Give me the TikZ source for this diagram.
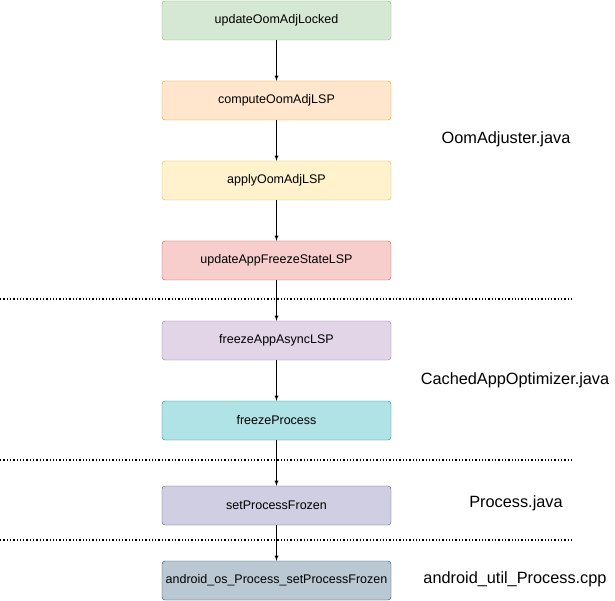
\documentclass[tikz,border=0pt]{standalone}
\usepackage{fontspec}
\setmainfont{Liberation Sans}
\begin{document}
\begin{tikzpicture}[x=1pt,y=-1pt,
  box/.style={draw, rounded corners=3pt, minimum width=229pt, minimum height=39pt, font=\fontsize{12.5}{14}\selectfont, inner sep=0pt},
  arr/.style={-latex, thick},
  sep/.style={dotted, line width=1.3pt},
  lbl/.style={font=\fontsize{16.3}{19}\selectfont}]
\useasboundingbox (0,0) rectangle (615,601);
\definecolor{g1}{HTML}{D5E8D4}\definecolor{g2}{HTML}{82B366}
\definecolor{o1}{HTML}{FFE6CC}\definecolor{o2}{HTML}{D79B00}
\definecolor{y1}{HTML}{FFF2CC}\definecolor{y2}{HTML}{D6B656}
\definecolor{r1}{HTML}{F8CECC}\definecolor{r2}{HTML}{B85450}
\definecolor{p1}{HTML}{E1D5E7}\definecolor{p2}{HTML}{9673A6}
\definecolor{t1}{HTML}{B0E3E6}\definecolor{t2}{HTML}{0E8088}
\definecolor{v1}{HTML}{D0CEE2}\definecolor{v2}{HTML}{56517E}
\definecolor{b1}{HTML}{BAC8D3}\definecolor{b2}{HTML}{23445D}
\node[box, fill=g1, draw=g2] (a) at (276.5,20.5) {updateOomAdjLocked};
\node[box, fill=o1, draw=o2] (b) at (276.5,100.5) {computeOomAdjLSP};
\node[box, fill=y1, draw=y2] (c) at (276.5,180.5) {applyOomAdjLSP};
\node[box, fill=r1, draw=r2] (d) at (276.5,260.5) {updateAppFreezeStateLSP};
\node[box, fill=p1, draw=p2] (e) at (276.5,340.5) {freezeAppAsyncLSP};
\node[box, fill=t1, draw=t2] (f) at (276.5,420.5) {freezeProcess};
\node[box, fill=v1, draw=v2] (g) at (276.5,505.5) {setProcessFrozen};
\node[box, fill=b1, draw=b2] (h) at (276.5,580.5) {android\_os\_Process\_setProcessFrozen};
\foreach \u/\v in {a/b,b/c,c/d,d/e,e/f,f/g,g/h} \draw[arr] (\u) -- (\v);
\draw[sep] (0,299) -- (572,299);
\draw[sep] (0,460) -- (572,460);
\draw[sep] (0,540) -- (572,540);
\node[lbl] (l1) at (506,139) {OomAdjuster.java};
\node[lbl] (l2) at (515,380) {CachedAppOptimizer.java};
\node[lbl] (l3) at (516,503) {Process.java};
\node[lbl] (l4) at (515,579) {android\_util\_Process.cpp};
\end{tikzpicture}
\end{document}
